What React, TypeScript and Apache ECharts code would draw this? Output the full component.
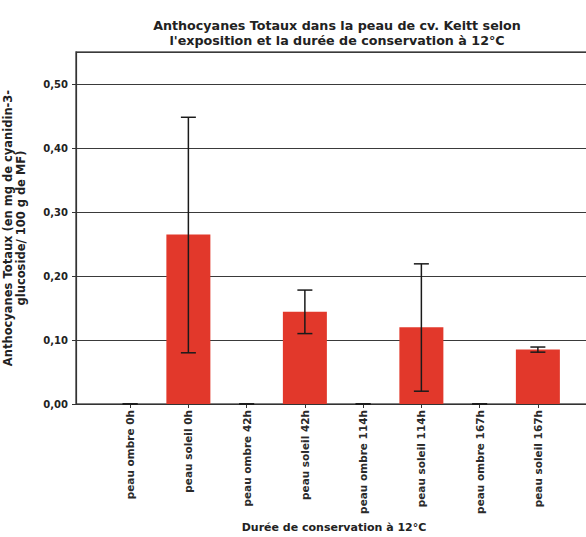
import React, { useEffect, useRef } from "react";
import * as echarts from "echarts";

const categories = [
  "peau ombre 0h",
  "peau soleil 0h",
  "peau ombre 42h",
  "peau soleil 42h",
  "peau ombre 114h",
  "peau soleil 114h",
  "peau ombre 167h",
  "peau soleil 167h",
];
const means = [0, 0.265, 0, 0.144, 0, 0.12, 0, 0.085];
const errLow = [0, 0.08, 0, 0.11, 0, 0.02, 0, 0.081];
const errHigh = [0, 0.448, 0, 0.178, 0, 0.219, 0, 0.089];
const yTicks = [0, 0.1, 0.2, 0.3, 0.4, 0.5];

const FONT = "'DejaVu Sans', 'Open Sans', sans-serif";

export default function App() {
  const ref = useRef<HTMLDivElement>(null);
  useEffect(() => {
    document.body.style.margin = "0";
    const chart = echarts.init(ref.current!, null, { renderer: "svg" });
    const yMax = 0.55;
    const option: any = {
      animation: false,
      backgroundColor: "#ffffff",
      title: {
        text: "Anthocyanes Totaux dans la peau de cv. Keitt selon\nl'exposition et la durée de conservation à 12°C",
        left: 332,
        top: 13,
        textAlign: "center",
        textStyle: {
          fontFamily: FONT,
          fontSize: 12.7,
          fontWeight: "bold",
          color: "#222",
          lineHeight: 15,
        },
      },
      grid: [
        {
          left: 76,
          right: -2,
          top: 52,
          bottom: 133,
          show: true,
          borderColor: "#555",
          borderWidth: 1.5,
          backgroundColor: "transparent",
          outerBoundsMode: "none",
        },
        { left: 101, right: 19, top: 52, bottom: 133, outerBoundsMode: "none" },
      ],
      xAxis: [
        {
          type: "value",
          gridIndex: 0,
          min: 0,
          max: 1,
          axisLine: { show: true, onZero: false, lineStyle: { color: "#333", width: 1.2 } },
          axisTick: { show: false },
          axisLabel: { show: false },
          splitLine: { show: false },
        },
        {
          type: "category",
          gridIndex: 1,
          data: categories,
          axisLine: { show: false },
          axisTick: {
            show: true,
            alignWithLabel: true,
            length: 4,
            lineStyle: { color: "#333" },
          },
          axisLabel: {
            rotate: 90,
            interval: 0,
            margin: 6,
            fontFamily: FONT,
            fontSize: 10.5,
            fontWeight: "bold",
            color: "#2a2a2a",
          },
          name: "Durée de conservation à 12°C",
          nameLocation: "middle",
          nameGap: 118,
          nameMoveOverlap: false,
          nameTextStyle: {
            fontFamily: FONT,
            fontSize: 11,
            fontWeight: "bold",
            color: "#222",
          },
        },
      ],
      yAxis: [
        {
          type: "value",
          gridIndex: 0,
          min: 0,
          max: yMax,
          interval: 0.1,
          axisLine: { show: true, lineStyle: { color: "#333", width: 1.2 } },
          axisTick: { show: true, length: 4, lineStyle: { color: "#333" } },
          axisLabel: {
            showMaxLabel: false,
            margin: 8,
            fontFamily: FONT,
            fontSize: 10,
            fontWeight: "bold",
            color: "#222",
            formatter: (v: number) =>
              yTicks.some((t) => Math.abs(t - v) < 1e-9) ? v.toFixed(2).replace(".", ",") : "",
          },
          splitLine: { show: true, lineStyle: { color: "#3a3a3a", width: 1.2 } },
          name: "Anthocyanes Totaux (en mg de cyanidin-3-\nglucoside/ 100 g de MF)",
          nameLocation: "middle",
          nameRotate: 90,
          nameGap: 49,
          nameMoveOverlap: false,
          nameTextStyle: {
            fontFamily: FONT,
            fontSize: 11.5,
            fontWeight: "bold",
            color: "#222",
            lineHeight: 13,
          },
        },
        {
          type: "value",
          gridIndex: 1,
          min: 0,
          max: yMax,
          show: false,
        },
      ],
      series: [
        {
          type: "bar",
          xAxisIndex: 1,
          yAxisIndex: 1,
          data: means,
          barWidth: 44,
          itemStyle: { color: "#e2382b" },
          z: 2,
        },
        {
          type: "custom",
          xAxisIndex: 1,
          yAxisIndex: 1,
          z: 3,
          data: categories.map((c, i) => [i, errLow[i], errHigh[i]]),
          renderItem: (params: any, api: any) => {
            const i = api.value(0);
            const lo = api.coord([i, api.value(1)]);
            const hi = api.coord([i, api.value(2)]);
            const hw = 7.5;
            const style = { stroke: "#1a1a1a", lineWidth: 1.5 };
            return {
              type: "group",
              children: [
                { type: "line", shape: { x1: hi[0], y1: hi[1], x2: lo[0], y2: lo[1] }, style },
                { type: "line", shape: { x1: hi[0] - hw, y1: hi[1], x2: hi[0] + hw, y2: hi[1] }, style },
                { type: "line", shape: { x1: lo[0] - hw, y1: lo[1], x2: lo[0] + hw, y2: lo[1] }, style },
              ],
            };
          },
        },
      ],
    };
    chart.setOption(option);
    return () => chart.dispose();
  }, []);
  return <div ref={ref} style={{ width: 586, height: 537 }} />;
}
